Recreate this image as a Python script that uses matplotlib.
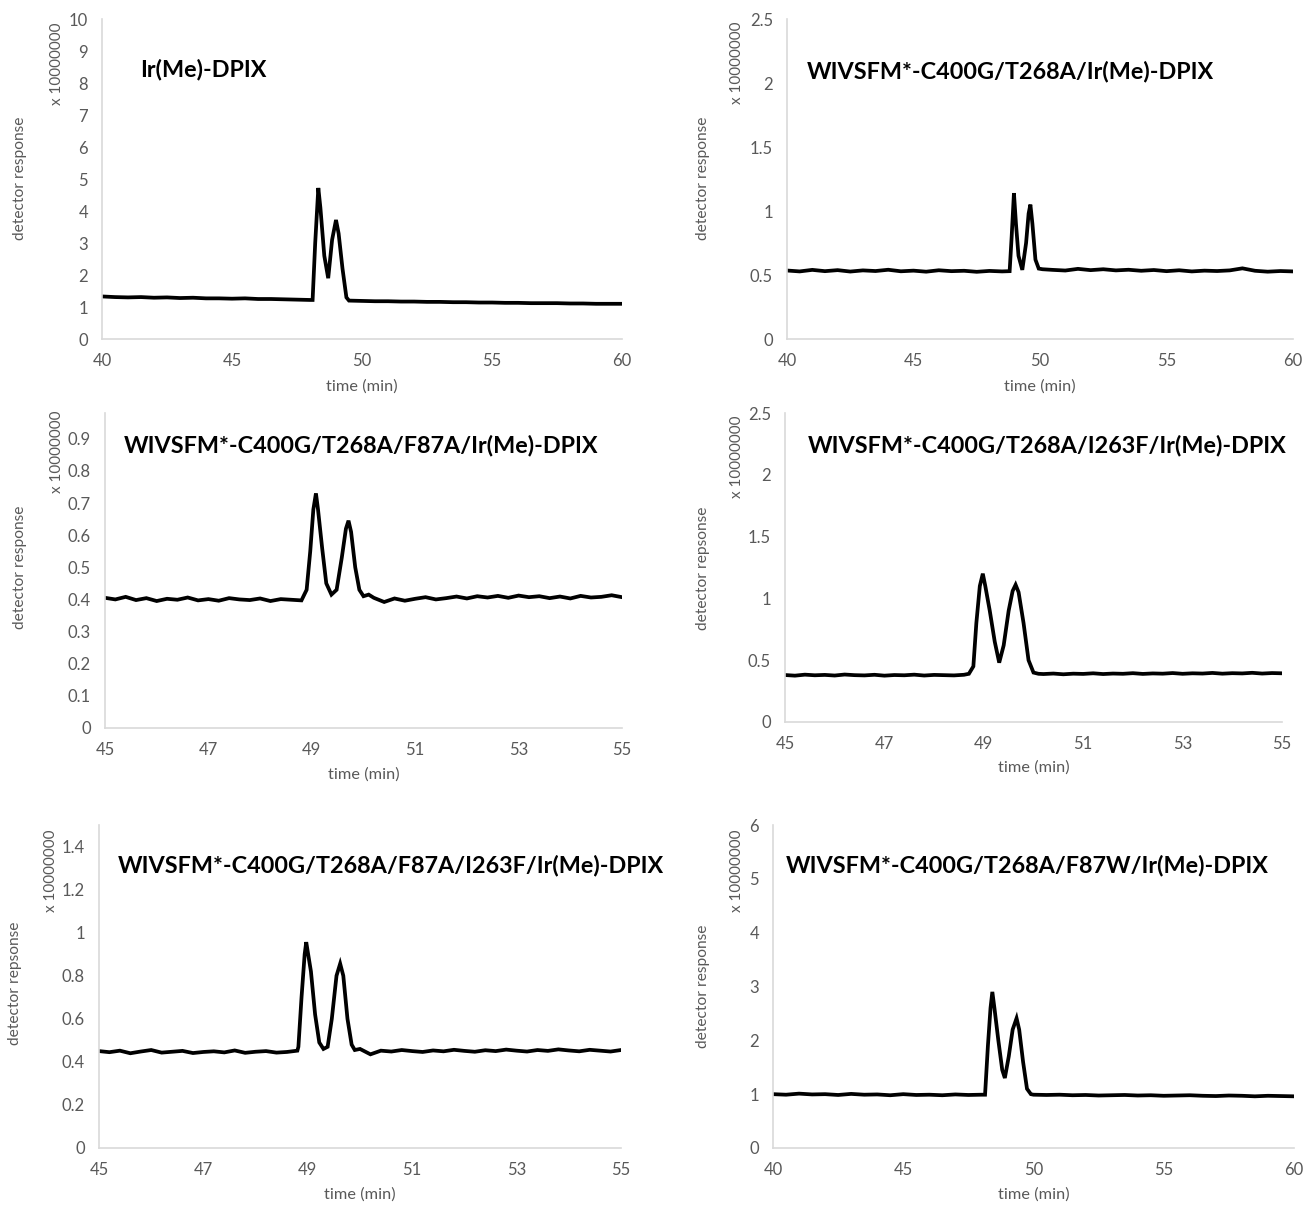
import numpy as np
import matplotlib
matplotlib.use('Agg')
import matplotlib.pyplot as plt

plt.rcParams['font.family'] = ['Lato', 'DejaVu Sans']

W, H = 1306, 1207

# --- chromatogram traces (time in min, response in units of 1e7) ---

# Ir(Me)-DPIX
t1 = list(np.arange(40.0, 48.01, 0.5)) + [48.1, 48.2, 48.32, 48.4, 48.55, 48.7, 48.85, 49.0, 49.1, 49.25, 49.4, 49.5] + list(np.arange(50.0, 60.01, 0.5))
y1 = [1.33, 1.31, 1.30, 1.31, 1.29, 1.30, 1.28, 1.29, 1.27, 1.27, 1.26, 1.27, 1.25, 1.25, 1.24, 1.23, 1.22,
      1.22, 3.0, 4.72, 4.1, 2.6, 1.9, 3.1, 3.72, 3.3, 2.2, 1.3, 1.2,
      1.19, 1.18, 1.18, 1.17, 1.17, 1.16, 1.16, 1.15, 1.15, 1.14, 1.14, 1.13, 1.13, 1.12, 1.12, 1.12, 1.11, 1.11, 1.10, 1.10, 1.10]

# WIVSFM*-C400G/T268A/Ir(Me)-DPIX
t2 = list(np.arange(40.0, 48.51, 0.5)) + [48.8, 48.88, 48.97, 49.05, 49.15, 49.3, 49.45, 49.55, 49.62, 49.7, 49.82, 49.95, 50.1] + list(np.arange(50.5, 60.01, 0.5))
y2 = [0.535, 0.528, 0.540, 0.530, 0.538, 0.527, 0.536, 0.531, 0.541, 0.529, 0.534, 0.526, 0.537, 0.530, 0.533, 0.525, 0.532, 0.528,
      0.53, 0.8, 1.14, 0.9, 0.65, 0.54, 0.75, 0.98, 1.05, 0.9, 0.62, 0.55, 0.545,
      0.540, 0.535, 0.548, 0.538, 0.545, 0.536, 0.541, 0.533, 0.539, 0.530, 0.537, 0.528, 0.534, 0.531, 0.536, 0.552, 0.533, 0.526, 0.531, 0.528]

# WIVSFM*-C400G/T268A/F87A/Ir(Me)-DPIX
t3 = list(np.arange(45.0, 48.81, 0.2)) + [48.9, 48.97, 49.03, 49.08, 49.12, 49.2, 49.28, 49.38, 49.48, 49.58, 49.66, 49.71, 49.76, 49.84, 49.92, 50.0, 50.1] + list(np.arange(50.2, 55.01, 0.2))
y3 = [0.405, 0.400, 0.408, 0.398, 0.404, 0.395, 0.402, 0.399, 0.406, 0.397, 0.401, 0.396, 0.404, 0.400, 0.398, 0.403, 0.395, 0.401, 0.399, 0.397,
      0.43, 0.55, 0.68, 0.73, 0.68, 0.56, 0.45, 0.415, 0.43, 0.53, 0.62, 0.645, 0.61, 0.50, 0.43, 0.41, 0.415,
      0.405, 0.392, 0.403, 0.396, 0.402, 0.407, 0.400, 0.404, 0.409, 0.403, 0.410, 0.406, 0.411, 0.405, 0.412, 0.407, 0.410, 0.404, 0.409, 0.403, 0.411, 0.406, 0.408, 0.413, 0.407]

# WIVSFM*-C400G/T268A/I263F/Ir(Me)-DPIX
t4 = list(np.arange(45.0, 48.61, 0.2)) + [48.7, 48.79, 48.85, 48.92, 48.98, 49.03, 49.12, 49.22, 49.31, 49.4, 49.5, 49.58, 49.64, 49.7, 49.8, 49.9, 50.0, 50.1] + list(np.arange(50.2, 55.01, 0.2))
y4 = [0.380, 0.375, 0.383, 0.378, 0.381, 0.376, 0.384, 0.379, 0.377, 0.382, 0.375, 0.380, 0.378, 0.383, 0.376, 0.381, 0.379, 0.377, 0.382,
      0.39, 0.45, 0.8, 1.1, 1.2, 1.1, 0.9, 0.65, 0.48, 0.62, 0.9, 1.06, 1.11, 1.05, 0.8, 0.5, 0.4, 0.39,
      0.388, 0.392, 0.386, 0.391, 0.389, 0.394, 0.388, 0.392, 0.390, 0.395, 0.389, 0.393, 0.391, 0.396, 0.390, 0.394, 0.392, 0.397, 0.391, 0.395, 0.393, 0.398, 0.392, 0.396, 0.394]

# WIVSFM*-C400G/T268A/F87A/I263F/Ir(Me)-DPIX
t5 = list(np.arange(45.0, 48.81, 0.2)) + [48.82, 48.88, 48.94, 48.97, 49.0, 49.06, 49.14, 49.22, 49.3, 49.38, 49.46, 49.55, 49.62, 49.68, 49.76, 49.84, 49.9, 50.0] + list(np.arange(50.2, 55.01, 0.2))
y5 = [0.450, 0.445, 0.452, 0.440, 0.448, 0.455, 0.443, 0.447, 0.451, 0.441, 0.446, 0.449, 0.444, 0.453, 0.442, 0.447, 0.450, 0.443, 0.446, 0.452,
      0.47, 0.7, 0.9, 0.956, 0.91, 0.82, 0.62, 0.49, 0.46, 0.47, 0.6, 0.8, 0.856, 0.8, 0.6, 0.48, 0.455, 0.46,
      0.435, 0.452, 0.448, 0.455, 0.450, 0.446, 0.453, 0.449, 0.456, 0.451, 0.447, 0.454, 0.450, 0.457, 0.452, 0.448, 0.455, 0.451, 0.458, 0.453, 0.449, 0.456, 0.452, 0.448, 0.455]

# WIVSFM*-C400G/T268A/F87W/Ir(Me)-DPIX
t6 = list(np.arange(40.0, 48.01, 0.5)) + [48.14, 48.25, 48.35, 48.42, 48.5, 48.65, 48.8, 48.9, 49.05, 49.2, 49.35, 49.45, 49.6, 49.75, 49.9, 50.0] + list(np.arange(50.5, 60.01, 0.5))
y6 = [1.00, 0.99, 1.01, 0.995, 1.0, 0.985, 1.005, 0.99, 0.995, 0.98, 1.0, 0.985, 0.99, 0.98, 0.995, 0.985, 0.99,
      0.99, 1.9, 2.6, 2.9, 2.6, 2.0, 1.45, 1.3, 1.7, 2.2, 2.41, 2.2, 1.6, 1.1, 1.0, 0.99,
      0.985, 0.99, 0.98, 0.985, 0.975, 0.98, 0.985, 0.975, 0.98, 0.97, 0.975, 0.98, 0.97, 0.965, 0.975, 0.97, 0.96, 0.97, 0.965, 0.96]

titles = ['Ir(Me)-DPIX',
          'WIVSFM*-C400G/T268A/Ir(Me)-DPIX',
          'WIVSFM*-C400G/T268A/F87A/Ir(Me)-DPIX',
          'WIVSFM*-C400G/T268A/I263F/Ir(Me)-DPIX',
          'WIVSFM*-C400G/T268A/F87A/I263F/Ir(Me)-DPIX',
          'WIVSFM*-C400G/T268A/F87W/Ir(Me)-DPIX']
ylabels = ['detector response', 'detector response', 'detector response',
           'detector repsonse', 'detector repsonse', 'detector response']
xlims = [(40, 60), (40, 60), (45, 55), (45, 55), (45, 55), (40, 60)]
xticks = [[40, 45, 50, 55, 60], [40, 45, 50, 55, 60], [45, 47, 49, 51, 53, 55],
          [45, 47, 49, 51, 53, 55], [45, 47, 49, 51, 53, 55], [40, 45, 50, 55, 60]]
ylims = [(0, 10), (0, 2.5), (0, 0.98), (0, 2.5), (0, 1.5), (0, 6)]
yticks = [list(range(0, 11)), [0, 0.5, 1, 1.5, 2, 2.5],
          [0, 0.1, 0.2, 0.3, 0.4, 0.5, 0.6, 0.7, 0.8, 0.9],
          [0, 0.5, 1, 1.5, 2, 2.5], [0, 0.2, 0.4, 0.6, 0.8, 1, 1.2, 1.4], list(range(0, 7))]
traces = [(t1, y1), (t2, y2), (t3, y3), (t4, y4), (t5, y5), (t6, y6)]

# pixel layout: axes box (left, right, top, bottom), title (x, y), ylabel x, ylabel y, multiplier (x, y), xlabel y
boxes = [(102, 622, 19, 339), (787, 1293, 19, 339), (105, 622, 413, 728),
         (785, 1282, 413, 722), (99, 621, 825, 1148), (773, 1294, 825, 1148)]
title_pos = [(140, 70), (807, 71), (124, 446), (808, 445), (118, 866), (786, 866)]
ylab_pos = [(20, 178), (703, 178), (20, 567), (703, 568), (15, 983), (703, 986)]
mult_pos = [(57, 64), (737, 63), (57, 452), (737, 457), (51, 871), (737, 871)]
xlab_y = [387, 387, 775, 768, 1195, 1195]

grey = '#595959'

def fx(px):
    return px / W

def fy(py):
    return 1 - py / H

fig = plt.figure(figsize=(W / 100, H / 100), dpi=100)

for i in range(6):
    l, r, t, b = boxes[i]
    ax = fig.add_axes([fx(l), fy(b), (r - l) / W, (b - t) / H])
    ax.plot(traces[i][0], traces[i][1], color='black', lw=2.7, solid_joinstyle='miter')
    ax.set_xlim(xlims[i])
    ax.set_ylim(ylims[i])
    ax.set_xticks(xticks[i])
    ax.set_yticks(yticks[i])
    ax.set_yticklabels(['%g' % v for v in yticks[i]])
    for s in ['top', 'right']:
        ax.spines[s].set_visible(False)
    for s in ['left', 'bottom']:
        ax.spines[s].set_color('#d9d9d9')
        ax.spines[s].set_linewidth(1.2)
    ax.tick_params(length=0, labelsize=12, colors=grey, pad=10)
    ax.patch.set_alpha(0)

    fig.text(fx(title_pos[i][0]), fy(title_pos[i][1]), titles[i], fontsize=16.8,
             fontweight='bold', ha='left', va='center', color='black')
    fig.text(fx(ylab_pos[i][0]), fy(ylab_pos[i][1]), ylabels[i], fontsize=11.2,
             rotation=90, ha='center', va='center', color=grey)
    fig.text(fx(mult_pos[i][0]), fy(mult_pos[i][1]), 'x 10000000', fontsize=11,
             rotation=90, ha='center', va='center', color=grey)
    fig.text(fx((l + r) / 2), fy(xlab_y[i]), 'time (min)', fontsize=11.8,
             ha='center', va='center', color=grey)

fig.savefig('out.png', dpi=100, facecolor='white')
